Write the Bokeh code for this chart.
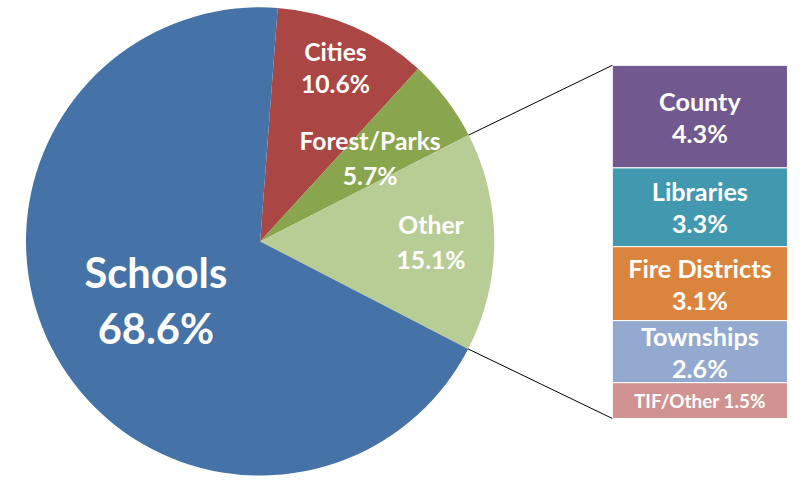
import math
from bokeh.plotting import figure
from bokeh.models import Range1d, ColumnDataSource
from bokeh.embed import file_html
from bokeh.resources import INLINE
from bokeh.core.properties import value

# ---- data ----
pie_labels = ["Cities", "Forest/Parks", "Other", "Schools"]
pie_values = [10.6, 5.7, 15.1, 68.6]
pie_colors = ["#AA4643", "#89A54E", "#B8CD96", "#4572A7"]

other_labels = ["County", "Libraries", "Fire Districts", "Townships", "TIF/Other"]
other_values = [4.3, 3.3, 3.1, 2.6, 1.5]
other_colors = ["#71588F", "#4198AF", "#DB843D", "#93A9CF", "#D19392"]

# ---- layout (reference pixel units, y up) ----
W, H = 796, 477
REF_W, REF_H = 812, 493
s = H / REF_H
xspan = W / s
x0 = (REF_W - xspan) / 2

p = figure(width=W, height=H, x_range=Range1d(x0, x0 + xspan), y_range=Range1d(0, REF_H),
           output_backend="svg", toolbar_location=None, min_border=0,
           x_axis_location=None, y_axis_location=None)
p.grid.visible = False
p.outline_line_color = None
p.background_fill_color = "white"

CX, CY, R = 263, 244, 242
START = math.radians(85.7)
FONT = value("Lato")

# pie wedges (clockwise from START)
total = sum(pie_values)
his, los = [], []
cum = 0.0
for v in pie_values:
    hi = START - 2 * math.pi * cum / total
    lo = hi - 2 * math.pi * v / total
    his.append(hi)
    los.append(lo)
    cum += v

src = ColumnDataSource(dict(x=[CX] * 4, y=[CY] * 4, lo=los, hi=his, color=pie_colors))
p.wedge(x="x", y="y", radius=R, start_angle="lo", end_angle="hi", color="color",
        line_color=None, source=src)

# pie labels
rad_frac = [0.81, 0.59, 0.73, 0.51]
name_size = [25.5, 25.5, 25.5, 43]
gap = [33, 36, 36, 58]
for i, lab in enumerate(pie_labels):
    mid = (his[i] + los[i]) / 2
    lx = CX + R * rad_frac[i] * math.cos(mid)
    ly = CY + R * rad_frac[i] * math.sin(mid)
    fs = f"{name_size[i] * s:.1f}px"
    p.text(x=[lx], y=[ly + gap[i] / 2], text=[lab], text_color="white", text_font=FONT,
           text_font_style="bold", text_font_size=fs, text_align="center", text_baseline="middle")
    p.text(x=[lx], y=[ly - gap[i] / 2], text=[f"{pie_values[i]}%"], text_color="white",
           text_font=FONT, text_font_style="bold", text_font_size=fs, text_align="center",
           text_baseline="middle")

# stacked bar for "Other"
BL, BR, BTOP, BH = 627, 808, 426, 365
unit = BH / sum(other_values)
tops, bots = [], []
y = BTOP
for v in other_values:
    tops.append(y)
    y -= v * unit
    bots.append(y)
bsrc = ColumnDataSource(dict(left=[BL] * 5, right=[BR] * 5, top=tops, bottom=bots, color=other_colors))
p.quad(left="left", right="right", top="top", bottom="bottom", fill_color="color",
       line_color="white", line_width=1, source=bsrc)

bx = (BL + BR) / 2
for i, lab in enumerate(other_labels):
    my = (tops[i] + bots[i]) / 2
    if i == len(other_labels) - 1:
        p.text(x=[bx], y=[my], text=[f"{lab} {other_values[i]}%"], text_color="white",
               text_font=FONT, text_font_style="bold", text_font_size=f"{19.5 * s:.1f}px",
               text_align="center", text_baseline="middle")
    else:
        fs = f"{26 * s:.1f}px"
        p.text(x=[bx], y=[my + 16.5], text=[lab], text_color="white", text_font=FONT,
               text_font_style="bold", text_font_size=fs, text_align="center", text_baseline="middle")
        p.text(x=[bx], y=[my - 16.5], text=[f"{other_values[i]}%"], text_color="white",
               text_font=FONT, text_font_style="bold", text_font_size=fs, text_align="center",
               text_baseline="middle")

# connector lines from "Other" slice edges to bar corners
oi = pie_labels.index("Other")
p.line(x=[CX + R * math.cos(his[oi]), BL], y=[CY + R * math.sin(his[oi]), BTOP],
       line_color="black", line_width=1)
p.line(x=[CX + R * math.cos(los[oi]), BL], y=[CY + R * math.sin(los[oi]), BTOP - BH],
       line_color="black", line_width=1)

open("out.html", "w").write(file_html(p, INLINE))
